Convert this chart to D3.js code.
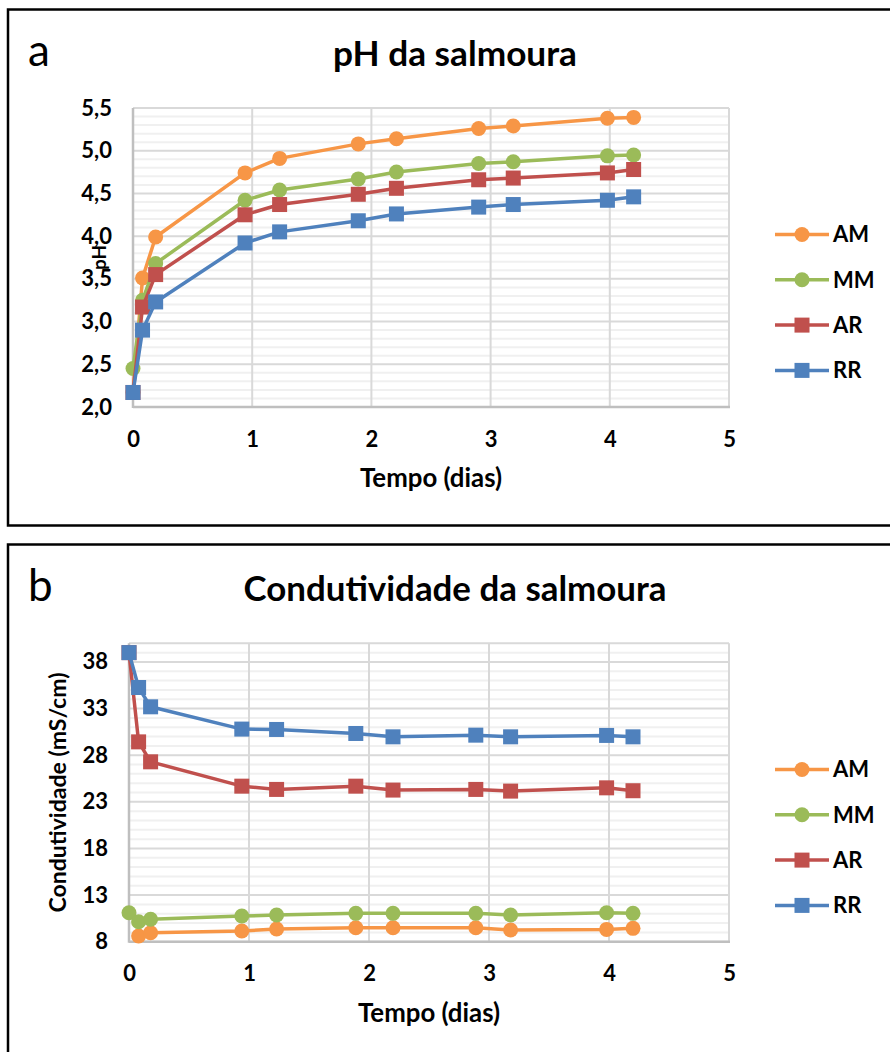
<!DOCTYPE html>
<html>
<head>
<meta charset="utf-8">
<script src="https://cdn.jsdelivr.net/npm/d3@7"></script>
<style>
  body { margin: 0; background: #fff; }
  svg { display: block; font-family: Lato, "Open Sans", sans-serif; }
</style>
</head>
<body>
<svg id="chart" width="890" height="1052"></svg>
<script>
// series names and colours (same for both panels)
const seriesNames = ["AM", "MM", "AR", "RR"];
const seriesColors = ["#F79646", "#9BBB59", "#C0504D", "#4F81BD"];
const seriesShapes = ["circle", "circle", "square", "square"];

// panel a: pH of the brine
const phTimes = [0, 0.08, 0.19, 0.94, 1.23, 1.89, 2.21, 2.90, 3.19, 3.98, 4.20];
const phAM = [2.17, 3.51, 3.99, 4.74, 4.91, 5.08, 5.14, 5.26, 5.29, 5.38, 5.39];
const phMM = [2.45, 3.25, 3.68, 4.42, 4.54, 4.67, 4.75, 4.85, 4.87, 4.94, 4.95];
const phAR = [2.17, 3.17, 3.55, 4.25, 4.37, 4.49, 4.56, 4.66, 4.68, 4.74, 4.78];
const phRR = [2.17, 2.90, 3.23, 3.92, 4.05, 4.18, 4.26, 4.34, 4.37, 4.42, 4.46];
const phTicks = [2.0, 2.5, 3.0, 3.5, 4.0, 4.5, 5.0, 5.5];

// panel b: conductivity of the brine (mS/cm)
const condTimes = [0, 0.08, 0.18, 0.94, 1.23, 1.89, 2.20, 2.89, 3.18, 3.98, 4.20];
const condAM = [null, 8.61, 8.96, 9.15, 9.36, 9.50, 9.50, 9.50, 9.25, 9.32, 9.43];
const condMM = [11.1, 10.14, 10.4, 10.75, 10.86, 11.04, 11.04, 11.04, 10.86, 11.1, 11.04];
const condAR = [39.0, 29.43, 27.29, 24.68, 24.33, 24.68, 24.26, 24.33, 24.15, 24.50, 24.19];
const condRR = [39.0, 35.26, 33.19, 30.80, 30.76, 30.33, 29.97, 30.15, 29.97, 30.12, 29.97];
const condTicks = [8, 13, 18, 23, 28, 33, 38];

const dayTicks = [0, 1, 2, 3, 4, 5];

const svg = d3.select("#chart");

// shrink/grow a text element until it has the wanted width
function fitWidth(sel, width) {
  let size = parseFloat(sel.style("font-size"));
  let w = sel.node().getComputedTextLength();
  sel.style("font-size", (size * width / w).toFixed(2) + "px");
}

function drawPanel(cfg) {
  const g = svg.append("g");

  // black frame of the panel (runs off the right/bottom of the picture)
  g.append("rect")
      .attr("x", 8).attr("y", cfg.frameTop)
      .attr("width", 900).attr("height", cfg.frameHeight)
      .attr("fill", "none").attr("stroke", "#000").attr("stroke-width", 2.5);

  g.append("text")
      .attr("x", 28).attr("y", cfg.frameTop + 56)
      .style("font-size", "44px")
      .text(cfg.letter);

  const title = g.append("text")
      .attr("x", 455).attr("y", cfg.frameTop + 56)
      .attr("text-anchor", "middle")
      .style("font-weight", "bold").style("font-size", "34px")
      .text(cfg.title);
  fitWidth(title, cfg.titleWidth);

  const x = d3.scaleLinear().domain([0, 5]).range([cfg.left, 729]);
  const y = d3.scaleLinear().domain(cfg.yDomain).range([cfg.bottom, cfg.top]);

  // minor then major gridlines
  g.append("g").selectAll("line").data(cfg.minor).join("line")
      .attr("x1", cfg.left).attr("x2", 729)
      .attr("y1", d => y(d)).attr("y2", d => y(d))
      .attr("stroke", "#f0f0f0").attr("stroke-width", 2);
  g.append("g").selectAll("line").data(cfg.yTicks).join("line")
      .attr("x1", cfg.left).attr("x2", 729)
      .attr("y1", d => y(d)).attr("y2", d => y(d))
      .attr("stroke", "#d9d9d9").attr("stroke-width", 2);
  g.append("g").selectAll("line").data(dayTicks.slice(1)).join("line")
      .attr("x1", d => x(d)).attr("x2", d => x(d))
      .attr("y1", cfg.top).attr("y2", cfg.bottom)
      .attr("stroke", "#d9d9d9").attr("stroke-width", 2);
  g.append("line")
      .attr("x1", cfg.left).attr("x2", 729)
      .attr("y1", cfg.top).attr("y2", cfg.top)
      .attr("stroke", "#d9d9d9").attr("stroke-width", 2);

  // axis lines
  g.append("line")
      .attr("x1", cfg.left).attr("x2", cfg.left)
      .attr("y1", cfg.top).attr("y2", cfg.bottom + 1)
      .attr("stroke", "#bfbfbf").attr("stroke-width", 2.5);
  g.append("line")
      .attr("x1", cfg.left).attr("x2", 730)
      .attr("y1", cfg.bottom).attr("y2", cfg.bottom)
      .attr("stroke", "#bfbfbf").attr("stroke-width", 2.5);

  // tick labels
  const yAxis = d3.axisLeft(y).tickValues(cfg.yTicks).tickSize(0).tickPadding(21)
      .tickFormat(cfg.yFormat);
  g.append("g").attr("transform", `translate(${cfg.left},0)`).call(yAxis)
      .call(a => a.select(".domain").remove())
      .selectAll("text")
      .style("font-family", "Lato, sans-serif")
      .style("font-size", "22px").style("font-weight", "bold").attr("fill", "#000");

  const xAxis = d3.axisBottom(x).tickValues(dayTicks).tickSize(0).tickPadding(24)
      .tickFormat(d3.format("d"));
  g.append("g").attr("transform", `translate(0,${cfg.bottom})`).call(xAxis)
      .call(a => a.select(".domain").remove())
      .selectAll("text")
      .style("font-family", "Lato, sans-serif")
      .style("font-size", "22px").style("font-weight", "bold").attr("fill", "#000");

  // axis titles
  const xt = g.append("text")
      .attr("x", (cfg.left + 729) / 2).attr("y", cfg.bottom + 80)
      .attr("text-anchor", "middle")
      .style("font-weight", "bold").style("font-size", "24px")
      .text("Tempo (dias)");
  fitWidth(xt, 142);

  const yt = g.append("text")
      .attr("transform", `translate(${cfg.yTitleX},${(cfg.top + cfg.bottom) / 2}) rotate(-90)`)
      .attr("text-anchor", "middle").attr("dy", "0.35em")
      .style("font-weight", "bold").style("font-size", "24px")
      .text(cfg.yTitle);
  fitWidth(yt, cfg.yTitleWidth);

  // series
  const line = d3.line()
      .defined(d => d.v != null)
      .x(d => x(d.t)).y(d => y(d.v));

  cfg.series.forEach((vals, i) => {
    const pts = vals.map((v, j) => ({t: cfg.times[j], v: v}));
    const s = g.append("g");
    s.append("path").datum(pts)
        .attr("d", line)
        .attr("fill", "none").attr("stroke", seriesColors[i])
        .attr("stroke-width", 3.5).attr("stroke-linejoin", "round");
    const good = pts.filter(d => d.v != null);
    if (seriesShapes[i] === "circle") {
      s.selectAll("circle").data(good).join("circle")
          .attr("cx", d => x(d.t)).attr("cy", d => y(d.v)).attr("r", 7.5)
          .attr("fill", seriesColors[i]);
    } else {
      s.selectAll("rect").data(good).join("rect")
          .attr("x", d => x(d.t) - 7.5).attr("y", d => y(d.v) - 7.5)
          .attr("width", 15).attr("height", 15)
          .attr("fill", seriesColors[i]);
    }
  });

  // legend
  const leg = g.append("g").selectAll("g").data(seriesNames).join("g")
      .attr("transform", (d, i) => `translate(0,${cfg.legendTop + i * 45.3})`);
  leg.append("line")
      .attr("x1", 775).attr("x2", 829)
      .attr("stroke", (d, i) => seriesColors[i]).attr("stroke-width", 3.5);
  leg.filter((d, i) => seriesShapes[i] === "circle").append("circle")
      .attr("cx", 802).attr("r", 7.5)
      .attr("fill", d => seriesColors[seriesNames.indexOf(d)]);
  leg.filter((d, i) => seriesShapes[i] === "square").append("rect")
      .attr("x", 794.5).attr("y", -7.5).attr("width", 15).attr("height", 15)
      .attr("fill", d => seriesColors[seriesNames.indexOf(d)]);
  leg.append("text")
      .attr("x", 833).attr("dy", "0.36em")
      .style("font-size", "22px").style("font-weight", "bold")
      .text(d => d);
}

const commaFmt = d => d3.format(".1f")(d).replace(".", ",");

drawPanel({
  frameTop: 9.5, frameHeight: 516,
  letter: "a", title: "pH da salmoura", titleWidth: 244,
  left: 133, top: 108, bottom: 407,
  yDomain: [2, 5.5], yTicks: phTicks, yFormat: commaFmt,
  minor: d3.range(21, 55).filter(d => d % 5 !== 0).map(d => d / 10),
  yTitle: "pH", yTitleX: 99, yTitleWidth: 25,
  times: phTimes, series: [phAM, phMM, phAR, phRR],
  legendTop: 234.5
});

drawPanel({
  frameTop: 544.5, frameHeight: 600,
  letter: "b", title: "Condutividade da salmoura", titleWidth: 423,
  left: 129, top: 643.3, bottom: 941.7,
  yDomain: [8, 40], yTicks: condTicks, yFormat: d3.format("d"),
  minor: d3.range(9, 40).filter(d => (d - 8) % 5 !== 0),
  yTitle: "Condutividade (mS/cm)", yTitleX: 58, yTitleWidth: 240,
  times: condTimes, series: [condAM, condMM, condAR, condRR],
  legendTop: 769.5
});
</script>
</body>
</html>
